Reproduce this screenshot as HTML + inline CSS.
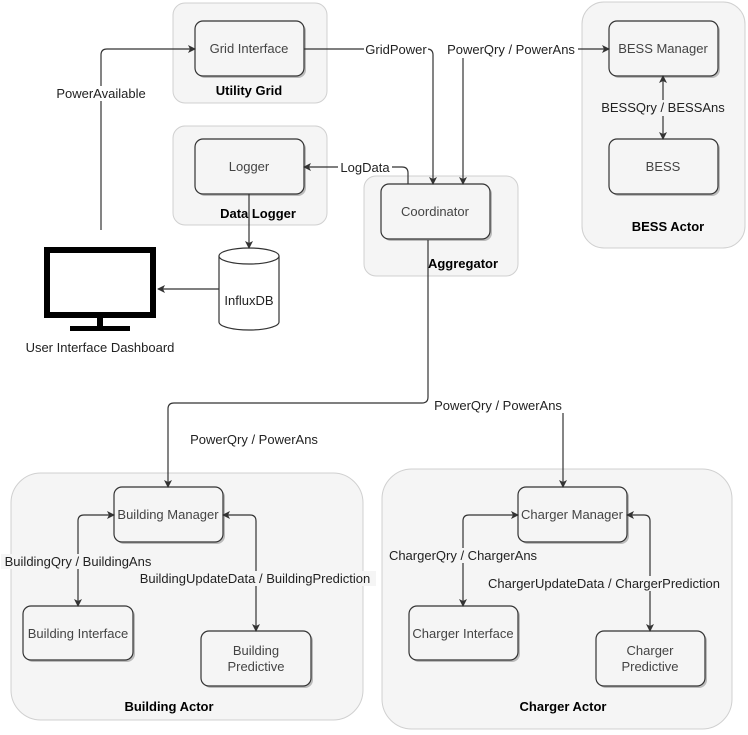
<!DOCTYPE html>
<html><head><meta charset="utf-8"><style>
html,body{margin:0;padding:0;background:#fff;}
svg{display:block;font-family:"Liberation Sans",Arial,sans-serif;}
.c{fill:#f5f5f5;stroke:#d0d0d0;stroke-width:1;}
.b{fill:#f5f5f5;stroke:#333;stroke-width:1.2;}
.s{fill:#bbb;}
.l{fill:none;stroke:#333;stroke-width:1.2;}
.t{font-size:13px;fill:#444;text-anchor:middle;}
.e{font-size:13px;fill:#222;text-anchor:middle;}
.h{font-size:13px;font-weight:bold;fill:#000;text-anchor:middle;}
</style></head><body>
<svg width="748" height="735" viewBox="0 0 748 735">
<defs><marker id="a" markerWidth="8" markerHeight="8" refX="7" refY="4" orient="auto-start-reverse" markerUnits="userSpaceOnUse"><path d="M0,0 L8,4 L0,8 L2,4 z" fill="#333"/></marker></defs>
<rect class="c" x="173" y="3" width="154" height="100" rx="12"/>
<rect class="c" x="173" y="126" width="154" height="99" rx="12"/>
<rect class="c" x="364" y="176" width="154" height="100" rx="12"/>
<rect class="c" x="582" y="2" width="163" height="246" rx="22"/>
<rect class="c" x="11" y="473" width="352" height="247" rx="30"/>
<rect class="c" x="382" y="469" width="350" height="260" rx="30"/>
<g>
<rect class="s" x="197" y="23" width="109" height="55" rx="8"/><rect class="b" x="195" y="21" width="109" height="55" rx="8"/>
<rect class="s" x="197" y="141" width="109" height="55" rx="8"/><rect class="b" x="195" y="139" width="109" height="55" rx="8"/>
<rect class="s" x="383" y="186" width="109" height="55" rx="8"/><rect class="b" x="381" y="184" width="109" height="55" rx="8"/>
<rect class="s" x="611" y="23" width="109" height="55" rx="8"/><rect class="b" x="609" y="21" width="109" height="55" rx="8"/>
<rect class="s" x="611" y="141" width="109" height="55" rx="8"/><rect class="b" x="609" y="139" width="109" height="55" rx="8"/>
<rect class="s" x="116" y="489" width="109" height="55" rx="8"/><rect class="b" x="114" y="487" width="109" height="55" rx="8"/>
<rect class="s" x="25" y="608" width="110" height="54" rx="8"/><rect class="b" x="23" y="606" width="110" height="54" rx="8"/>
<rect class="s" x="203" y="633" width="110" height="55" rx="8"/><rect class="b" x="201" y="631" width="110" height="55" rx="8"/>
<rect class="s" x="520" y="489" width="109" height="55" rx="8"/><rect class="b" x="518" y="487" width="109" height="55" rx="8"/>
<rect class="s" x="411" y="608" width="109" height="54" rx="8"/><rect class="b" x="409" y="606" width="109" height="54" rx="8"/>
<rect class="s" x="598" y="633" width="109" height="55" rx="8"/><rect class="b" x="596" y="631" width="109" height="55" rx="8"/>
</g>
<text class="t" x="249" y="53">Grid Interface</text>
<text class="t" x="249" y="171">Logger</text>
<text class="t" x="435" y="216">Coordinator</text>
<text class="t" x="663" y="53">BESS Manager</text>
<text class="t" x="663" y="171">BESS</text>
<text class="t" x="168" y="519">Building Manager</text>
<text class="t" x="78" y="638">Building Interface</text>
<text class="t" x="256" y="655">Building</text><text class="t" x="256" y="671">Predictive</text>
<text class="t" x="572" y="519">Charger Manager</text>
<text class="t" x="463" y="638">Charger Interface</text>
<text class="t" x="650" y="655">Charger</text><text class="t" x="650" y="671">Predictive</text>
<text class="h" x="249" y="95">Utility Grid</text>
<text class="h" x="258" y="218">Data Logger</text>
<text class="h" x="463" y="268">Aggregator</text>
<text class="h" x="668" y="231">BESS Actor</text>
<text class="h" x="169" y="711">Building Actor</text>
<text class="h" x="563" y="711">Charger Actor</text>
<path d="M219,256 L219,322 A30,8 0 0 0 279,322 L279,256" fill="#fff" stroke="#333" stroke-width="1.2"/>
<ellipse cx="249" cy="256" rx="30" ry="8" fill="#fff" stroke="#333" stroke-width="1.2"/>
<text class="e" x="249" y="305">InfluxDB</text>
<rect x="47" y="250" width="106" height="65" fill="#fff" stroke="#000" stroke-width="6"/>
<rect x="97" y="318" width="6" height="9" fill="#000"/>
<rect x="70" y="326" width="60" height="5" fill="#000"/>
<text class="e" x="100" y="352">User Interface Dashboard</text>
<path class="l" d="M304,49 L427,49 Q433,49 433,55 L433,184" marker-end="url(#a)"/>
<path class="l" d="M463,58 L463,184" marker-end="url(#a)"/>
<path class="l" d="M578,49 L609,49" marker-end="url(#a)"/>
<path class="l" d="M663,76 L663,139" marker-end="url(#a)" marker-start="url(#a)"/>
<path class="l" d="M408,184 L408,173 Q408,167 402,167 L304,167" marker-end="url(#a)"/>
<path class="l" d="M249,194 L249,248" marker-end="url(#a)"/>
<path class="l" d="M219,289 L158,289" marker-end="url(#a)"/>
<path class="l" d="M101,230 L101,55 Q101,49 107,49 L195,49" marker-end="url(#a)"/>
<path class="l" d="M428,240 L428,397 Q428,403 422,403 L174,403 Q168,403 168,409 L168,487" marker-end="url(#a)"/>
<path class="l" d="M563,413 L563,487" marker-end="url(#a)"/>
<path class="l" d="M114,515 L84,515 Q78,515 78,521 L78,606" marker-end="url(#a)" marker-start="url(#a)"/>
<path class="l" d="M223,515 L250,515 Q256,515 256,521 L256,631" marker-end="url(#a)" marker-start="url(#a)"/>
<path class="l" d="M518,515 L469,515 Q463,515 463,521 L463,606" marker-end="url(#a)" marker-start="url(#a)"/>
<path class="l" d="M627,515 L644,515 Q650,515 650,521 L650,631" marker-end="url(#a)" marker-start="url(#a)"/>
<g class="e">
<rect x="364" y="42" width="64" height="15" fill="#fff"/><text class="e" x="396" y="54">GridPower</text>
<text class="e" x="511" y="54">PowerQry / PowerAns</text>
<rect x="600" y="100" width="126" height="16" fill="#f5f5f5"/><text class="e" x="663" y="112">BESSQry / BESSAns</text>
<rect x="338" y="160" width="54" height="15" fill="#fff"/><text class="e" x="365" y="172">LogData</text>
<rect x="50" y="86" width="102" height="15" fill="#fff"/><text class="e" x="101" y="98">PowerAvailable</text>
<text class="e" x="498" y="410">PowerQry / PowerAns</text>
<text class="e" x="254" y="444">PowerQry / PowerAns</text>
<rect x="1" y="554" width="154" height="15" fill="#f5f5f5"/><text class="e" x="78" y="566">BuildingQry / BuildingAns</text>
<rect x="135" y="571" width="241" height="15" fill="#f5f5f5"/><text class="e" x="255" y="583">BuildingUpdateData / BuildingPrediction</text>
<rect x="386" y="548" width="155" height="15" fill="#f5f5f5"/><text class="e" x="463" y="560">ChargerQry / ChargerAns</text>
<rect x="483" y="576" width="243" height="15" fill="#f5f5f5"/><text class="e" x="604" y="588">ChargerUpdateData / ChargerPrediction</text>
</g>
</svg>
</body></html>
